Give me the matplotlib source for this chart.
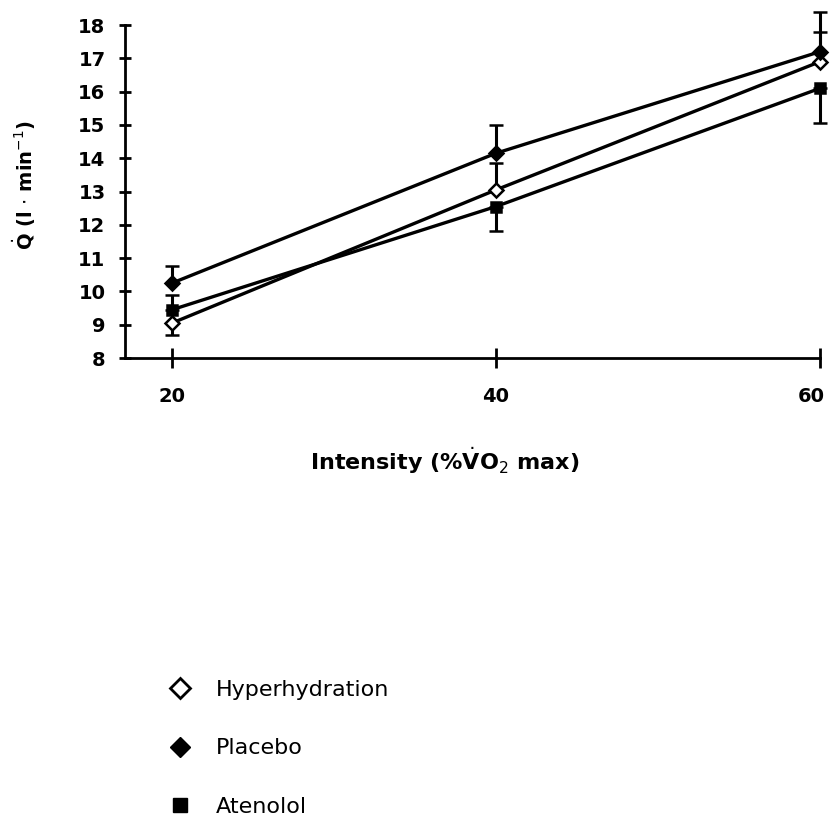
import matplotlib
matplotlib.use("Agg")
import matplotlib.pyplot as plt
import matplotlib.transforms as mtransforms
from matplotlib.lines import Line2D

# Exercise intensity (% VO2 max)
intensity = [20, 40, 60]

# Cardiac output (l/min) per condition, with one-sided SD bars
hyper = [9.05, 13.05, 16.9]
hyper_lo = [0.35, 0.0, 0.0]
hyper_hi = [0.0, 0.8, 0.9]

placebo = [10.25, 14.15, 17.2]
placebo_lo = [0.0, 0.0, 0.0]
placebo_hi = [0.5, 0.85, 1.2]

atenolol = [9.45, 12.55, 16.1]
atenolol_lo = [0.0, 0.75, 1.05]
atenolol_hi = [0.45, 0.0, 0.0]

y_ticks = list(range(8, 19))
x_ticks = [20, 40, 60]

fig = plt.figure(figsize=(8.31, 8.15), dpi=100)
ax = fig.add_axes([0.1504, 0.5607, 0.8364, 0.4086])

series = [
    (hyper, hyper_lo, hyper_hi, "D", "white"),
    (placebo, placebo_lo, placebo_hi, "D", "black"),
    (atenolol, atenolol_lo, atenolol_hi, "s", "black"),
]
for vals, lo, hi, mk, fc in series:
    ax.errorbar(intensity, vals, yerr=[lo, hi], color="black", lw=2.4,
                marker=mk, ms=7, mfc=fc, mec="black", mew=1.8,
                elinewidth=2.2, capsize=5, capthick=3, clip_on=False, zorder=3)

ax.set_xlim(17.1, 60)
ax.set_ylim(8, 18)
ax.set_xticks(x_ticks)
ax.set_yticks(y_ticks)
ax.spines["top"].set_visible(False)
ax.spines["right"].set_visible(False)
for sp in ("left", "bottom"):
    ax.spines[sp].set_linewidth(2)

ax.tick_params(axis="both", direction="inout", width=2, length=8)
ax.tick_params(axis="y", pad=10, labelsize=14)
ax.tick_params(axis="x", pad=14, labelsize=14, length=14)
for lab in ax.get_xticklabels() + ax.get_yticklabels():
    lab.set_fontweight("bold")

# pull the last x label in so it stays on the canvas
fig.canvas.draw()
last = ax.get_xticklabels()[-1]
last.set_transform(last.get_transform() +
                   mtransforms.ScaledTranslation(-6 / 72, 0, fig.dpi_scale_trans))

ax.set_ylabel(r"$\dot{\mathbf{Q}}$ (l $\cdot$ min$^{-1}$)", fontsize=14,
              fontweight="bold")
ax.yaxis.set_label_coords(-0.125, 0.52)
ax.set_xlabel(r"Intensity (%$\dot{\mathbf{V}}$O$_2$ max)", fontsize=16,
              fontweight="bold")
ax.xaxis.set_label_coords(0.46, -0.26)

handles = [
    Line2D([], [], ls="none", marker="D", ms=10, mfc="white", mec="black", mew=2),
    Line2D([], [], ls="none", marker="D", ms=10, mfc="black", mec="black"),
    Line2D([], [], ls="none", marker="s", ms=10, mfc="black", mec="black"),
]
fig.legend(handles, ["Hyperhydration", "Placebo", "Atenolol"],
           loc="upper left", bbox_to_anchor=(0.166, 0.19), frameon=False,
           fontsize=16, labelspacing=1.72, handletextpad=0.6)

fig.savefig("out.png", dpi=100)
